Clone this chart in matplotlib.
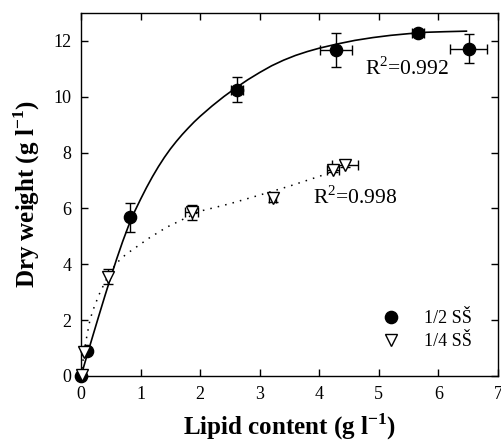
# plot.py
# dry weight vs lipid content for two medium dilutions, with fitted curves

import matplotlib
matplotlib.use("Agg")
import matplotlib.pyplot as plt

plt.rcParams['font.family'] = ['Liberation Serif', 'DejaVu Serif']
plt.rcParams['mathtext.fontset'] = 'custom'
plt.rcParams['mathtext.rm'] = 'Liberation Serif'
plt.rcParams['mathtext.bf'] = 'Liberation Serif:bold'

# 1/2 SS measurements (mean +/- error)
half_x = [0.0, 0.10, 0.82, 2.62, 4.28, 5.65, 6.51]
half_y = [0.0, 0.88, 5.68, 10.25, 11.68, 12.28, 11.72]
half_xerr = [0, 0, 0, 0.10, 0.27, 0.10, 0.31]
half_yerr = [0, 0, 0.52, 0.45, 0.60, 0.10, 0.52]

# 1/4 SS measurements
quarter_x = [0.02, 0.05, 0.45, 1.86, 3.22, 4.23, 4.43]
quarter_y = [0.03, 0.86, 3.55, 5.87, 6.39, 7.39, 7.57]
quarter_xerr = [0, 0, 0, 0.11, 0.06, 0.10, 0.22]
quarter_yerr = [0, 0, 0.27, 0.27, 0.15, 0.10, 0.08]

# fitted curves
half_fit_x = [0.0, 0.1, 0.2, 0.3, 0.4, 0.5, 0.6, 0.7, 0.8, 0.9, 1.0, 1.1,
              1.2, 1.3, 1.4, 1.5, 1.6, 1.7, 1.8, 1.9, 2.0, 2.2, 2.4, 2.6,
              2.8, 3.0, 3.2, 3.4, 3.6, 3.8, 4.0, 4.3, 4.6, 4.9, 5.2, 5.5,
              5.8, 6.1, 6.47]
half_fit_y = [0.0, 0.73, 1.45, 2.16, 2.86, 3.54, 4.20, 4.82, 5.39, 5.89,
              6.33, 6.75, 7.14, 7.50, 7.83, 8.13, 8.40, 8.65, 8.88, 9.10,
              9.30, 9.67, 10.01, 10.32, 10.61, 10.87, 11.11, 11.31, 11.48,
              11.62, 11.74, 11.89, 12.02, 12.12, 12.20, 12.26, 12.31, 12.33,
              12.35]
quarter_fit_x = [0.0, 0.03, 0.06, 0.10, 0.15, 0.20, 0.30, 0.40, 0.50, 0.60,
                 0.75, 0.93, 1.15, 1.44, 1.75, 2.05, 2.50, 3.00, 3.50, 4.00,
                 4.20]
quarter_fit_y = [0.0, 0.50, 0.95, 1.45, 2.00, 2.35, 2.90, 3.35, 3.75, 4.05,
                 4.35, 4.62, 4.95, 5.33, 5.65, 5.93, 6.17, 6.48, 6.80, 7.15,
                 7.30]

labels = ["1/2 SŠ", "1/4 SŠ"]
r2_labels = ["R$^2$=0.992", "R$^2$=0.998"]


# draws error bars only where there is an error to show
def draw_errors(ax, xs, ys, xerrs, yerrs):
    for x, y, xe, ye in zip(xs, ys, xerrs, yerrs):
        if xe > 0:
            ax.errorbar([x], [y], xerr=[xe], fmt='none', ecolor='black',
                        elinewidth=1, capsize=3.6, capthick=1, zorder=2)
        if ye > 0:
            ax.errorbar([x], [y], yerr=[ye], fmt='none', ecolor='black',
                        elinewidth=1, capsize=3.6, capthick=1, zorder=2)


def main():
    fig = plt.figure(figsize=(5.01, 4.42), dpi=100)
    ax = fig.add_axes([81 / 501, 1 - 376 / 442, 417 / 501, 363 / 442])

    ax.plot(half_fit_x, half_fit_y, color='black', lw=1.2, zorder=3)
    ax.plot(quarter_fit_x, quarter_fit_y, color='black', lw=1.1,
            linestyle=(0, (1, 4)), zorder=3)

    draw_errors(ax, half_x, half_y, half_xerr, half_yerr)
    draw_errors(ax, quarter_x, quarter_y, quarter_xerr, quarter_yerr)

    ax.plot(half_x, half_y, 'o', ms=8.8, color='black', label=labels[0],
            zorder=4, clip_on=False)
    ax.plot(quarter_x, quarter_y, 'v', ms=8.8, mfc='white', mec='black',
            mew=1, label=labels[1], zorder=5, clip_on=False)

    ax.text(4.77, 11.0, r2_labels[0], fontsize=15.5, va='center')
    ax.text(3.89, 6.4, r2_labels[1], fontsize=15.5, va='center')

    ax.set_xlim(0, 7)
    ax.set_ylim(0, 13)
    ax.set_xticks(range(0, 8))
    ax.set_yticks(range(0, 13, 2))
    ax.tick_params(direction='in', length=5, width=1, labelsize=13,
                   top=True, right=True, pad=7)
    for spine in ax.spines.values():
        spine.set_linewidth(1)

    ax.set_xlabel(r"Lipid content (g l$^{\mathbf{-1}}$)", fontsize=18,
                  fontweight='bold', labelpad=6)
    ax.set_ylabel(r"Dry weight (g l$^{\mathbf{-1}}$)", fontsize=18,
                  fontweight='bold', labelpad=8)

    ax.legend(loc='upper left', bbox_to_anchor=(0.722, 0.182), frameon=False,
              fontsize=13, handlelength=1.0, handletextpad=1.3,
              borderpad=0, borderaxespad=0, labelspacing=0.35)

    fig.savefig("out.png", dpi=100)


if __name__ == "__main__":
    main()
